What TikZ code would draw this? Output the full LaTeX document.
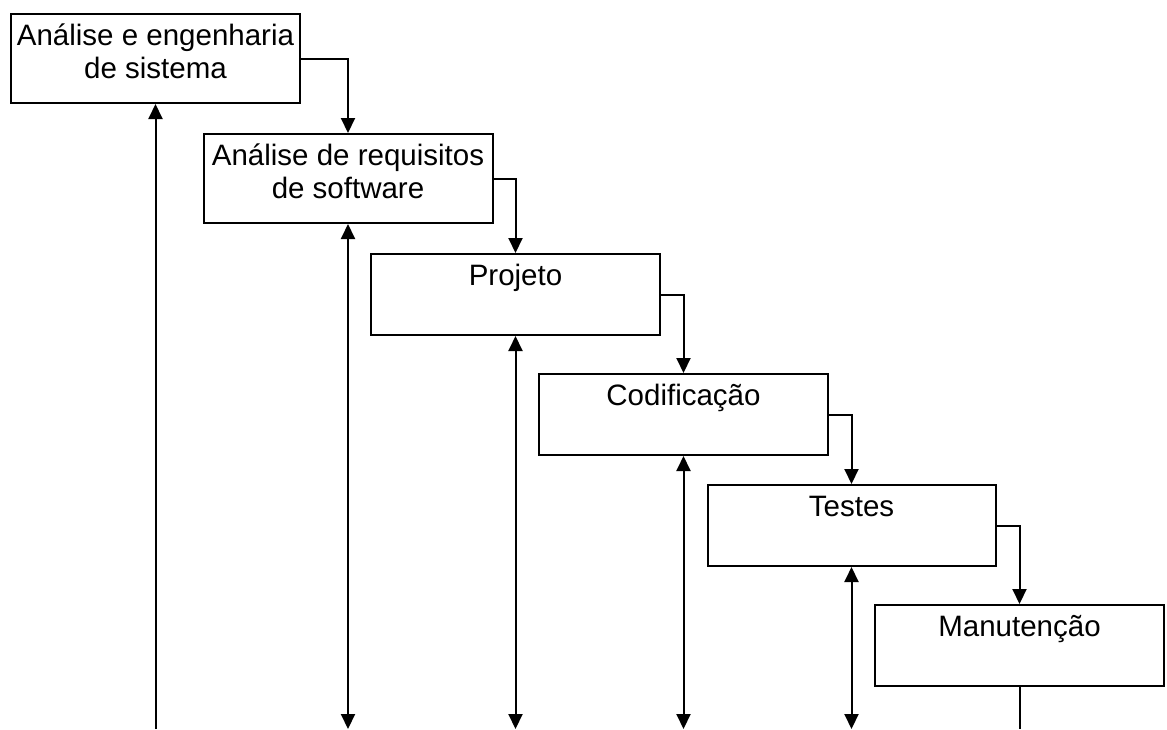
\documentclass[tikz,border=0pt]{standalone}
\usepackage{fontspec}
\setmainfont{Liberation Sans}
\usetikzlibrary{arrows.meta}
\tikzset{
  stage/.style={draw=black, line width=2pt, inner xsep=0pt, inner ysep=0pt,
    anchor=north west, font=\fontsize{29.5}{33}\selectfont, text height=31pt},
  tip/.tip={Triangle[length=15pt,width=14pt]},
  flow/.style={line width=2pt, -tip},
  both/.style={line width=2pt, tip-tip},
  plain/.style={line width=2pt},
}
\newcommand{\stagetext}[1]{\begin{tabular}[t]{@{}c@{}}#1\end{tabular}}
\begin{document}
\begin{tikzpicture}[x=1pt,y=-1pt]
\useasboundingbox[fill=white] (0,0) rectangle (1167,729);
\node[stage, minimum width=289pt, text depth=58pt] (b1) at (10,13) {\stagetext{Análise e engenharia\\de sistema}};
\node[stage, minimum width=289pt, text depth=58pt] (b2) at (202.5,133) {\stagetext{Análise de requisitos\\de software}};
\node[stage, minimum width=289pt, text depth=50pt] (b3) at (370,253) {\stagetext{Projeto}};
\node[stage, minimum width=289pt, text depth=50pt] (b4) at (538,373) {\stagetext{Codificação}};
\node[stage, minimum width=288pt, text depth=50pt] (b5) at (706.5,484) {\stagetext{Testes}};
\node[stage, minimum width=289pt, text depth=50pt] (b6) at (874,604) {\stagetext{Manutenção}};
% bottom ends
\coordinate (e1) at (b1.south |- 0,729);
\coordinate (e2) at (b2.south |- 0,729);
\coordinate (e3) at (b3.south |- 0,729);
\coordinate (e4) at (b4.south |- 0,729);
\coordinate (e5) at (b5.south |- 0,729);
\coordinate (e6) at (b6.south |- 0,729);
% flow connectors
\draw[flow] (b1.east) -| (b2.north);
\draw[flow] (b2.east) -| (b3.north);
\draw[flow] (b3.east) -| (b4.north);
\draw[flow] (b4.east) -| (b5.north);
\draw[flow] (b5.east) -| (b6.north);
% vertical feedback lines
\draw[flow] (e1) -- (b1.south);
\draw[both] (e2) -- (b2.south);
\draw[both] (e3) -- (b3.south);
\draw[both] (e4) -- (b4.south);
\draw[both] (e5) -- (b5.south);
\draw[plain] (b6.south) -- (e6);
\end{tikzpicture}
\end{document}
